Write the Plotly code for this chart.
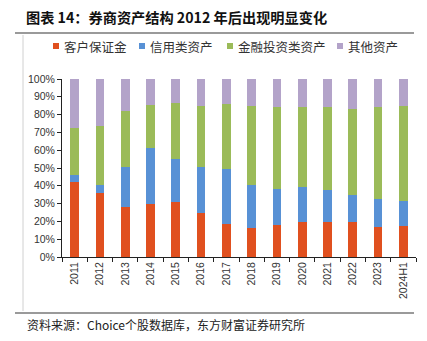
import plotly.graph_objects as go

categories = ["2011", "2012", "2013", "2014", "2015", "2016", "2017", "2018",
              "2019", "2020", "2021", "2022", "2023", "2024H1"]
# cumulative tops (%)
cum_red = [42.2, 35.8, 28.0, 29.8, 31.0, 24.8, 18.6, 16.3, 18.0, 19.7, 19.7, 19.7, 17.1, 17.4]
cum_blue = [45.8, 40.3, 50.5, 61.2, 55.0, 50.5, 49.3, 40.2, 38.1, 39.4, 37.5, 34.9, 32.5, 31.5]
cum_green = [72.4, 73.7, 82.0, 85.4, 86.3, 84.6, 86.1, 85.0, 84.2, 84.2, 84.2, 82.9, 84.2, 84.8]

client_deposit = cum_red
credit_assets = [round(b - r, 1) for b, r in zip(cum_blue, cum_red)]
invest_assets = [round(g - b, 1) for g, b in zip(cum_green, cum_blue)]
other_assets = [round(100 - g, 1) for g in cum_green]

series_names = ["客户保证金", "信用类资产", "金融投资类资产", "其他资产"]
series_values = [client_deposit, credit_assets, invest_assets, other_assets]
series_colors = ["#E0501F", "#5891D5", "#9BBB59", "#B3A3C9"]

title_text = "图表 14：券商资产结构 2012 年后出现明显变化"
source_text = "资料来源：Choice个股数据库，东方财富证券研究所"

W, H = 427, 341
L, R, T, B = 62, 11, 79, 84
pw, ph = W - L - R, H - T - B

def px(x):
    return (x - L) / pw

def py(y):
    return (H - B - y) / ph

fig = go.Figure()
for name, vals, col in zip(series_names, series_values, series_colors):
    fig.add_trace(go.Bar(x=categories, y=vals, name=name, marker_color=col,
                         marker_line_width=0, showlegend=False))

cjk = "Noto Sans CJK SC"
shapes = [
    dict(type="line", xref="paper", yref="paper", x0=px(15), x1=px(414), y0=py(33), y1=py(33),
         line=dict(color="#9a9a9a", width=2)),
    dict(type="line", xref="paper", yref="paper", x0=px(15), x1=px(414), y0=py(313), y1=py(313),
         line=dict(color="#9a9a9a", width=2)),
    dict(type="line", xref="paper", yref="paper", x0=px(23), x1=px(23), y0=py(35), y1=py(311),
         line=dict(color="#d0d0d0", width=1)),
]
annotations = [
    dict(text=source_text, xref="paper", yref="paper", x=px(25), y=py(324), xanchor="left",
         yanchor="middle", showarrow=False, font=dict(family=cjk, size=12, color="#222")),
]
leg_sq_x = [53, 139, 227, 337]
leg_y = 46
for name, col, sx in zip(series_names, series_colors, leg_sq_x):
    shapes.append(dict(type="rect", xref="paper", yref="paper", x0=px(sx), x1=px(sx + 6),
                       y0=py(leg_y + 3), y1=py(leg_y - 3), fillcolor=col, line=dict(width=0)))
    annotations.append(dict(text=name, xref="paper", yref="paper", x=px(sx + 9), y=py(leg_y),
                            xanchor="left", yanchor="middle", showarrow=False,
                            font=dict(family=cjk, size=12.5, color="#333")))

fig.update_layout(
    width=W, height=H,
    margin=dict(l=L, r=R, t=T, b=B),
    barmode="stack", bargap=0.66,
    plot_bgcolor="white", paper_bgcolor="white",
    title=dict(text="<b>" + title_text + "</b>", x=26 / W, xanchor="left",
               y=1 - 18 / H, yanchor="middle",
               font=dict(family=cjk, size=14.2, color="#111")),
    shapes=shapes, annotations=annotations,
    xaxis=dict(showline=True, linecolor="#222", linewidth=1, ticks="outside",
               tickson="boundaries", ticklen=4, tickcolor="#222", tickangle=-90,
               tickfont=dict(family="Liberation Sans", size=10.5, color="#333"),
               showgrid=False),
    yaxis=dict(range=[0, 100], dtick=10, ticksuffix="%", showline=True, linecolor="#222",
               linewidth=1, ticks="outside", ticklen=4, tickcolor="#222", showgrid=False,
               zeroline=False,
               tickfont=dict(family="Liberation Sans", size=10.5, color="#333")),
)

fig.write_html("out.html")
